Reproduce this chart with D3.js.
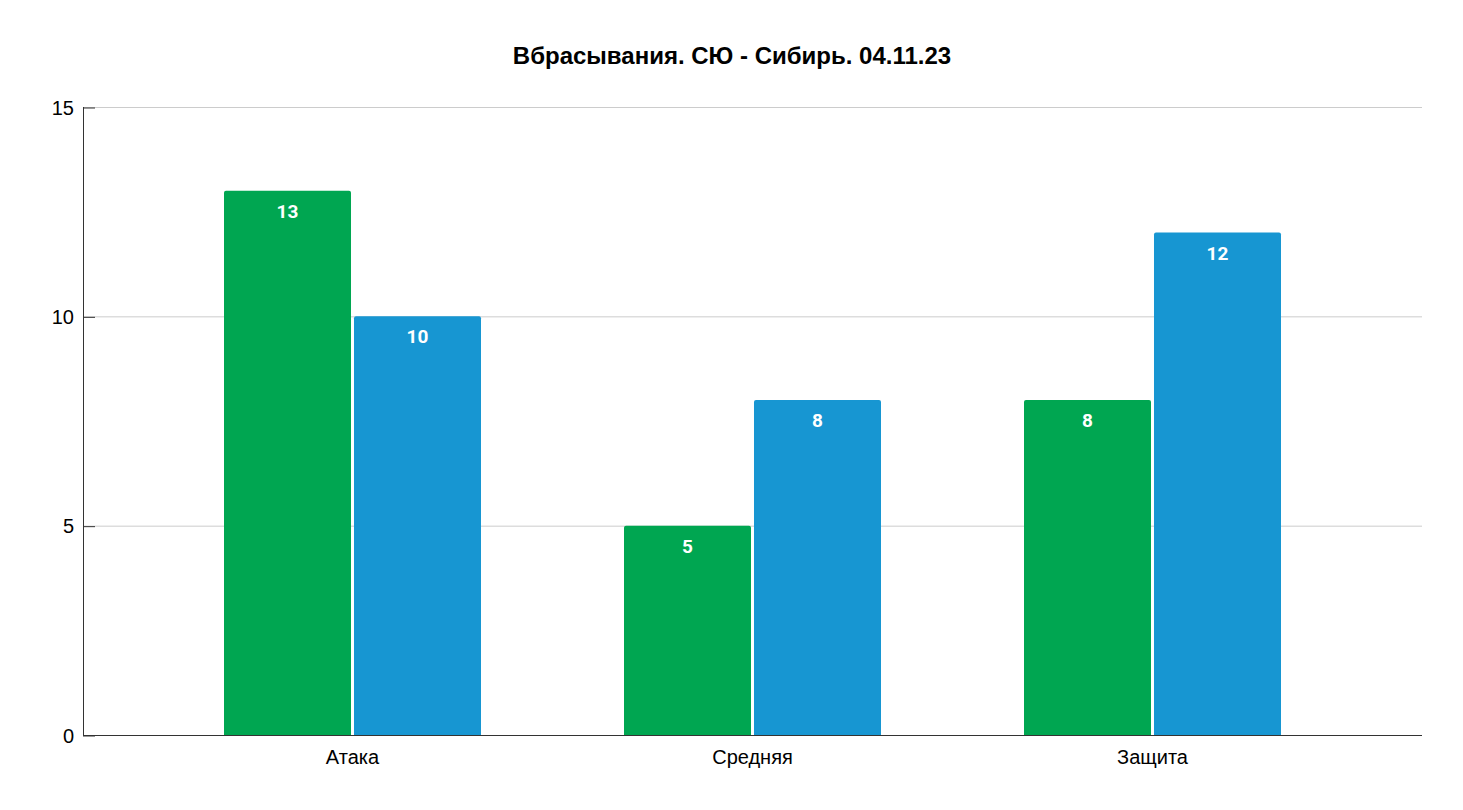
<!DOCTYPE html>
<html><head><meta charset="utf-8">
<script src="https://cdn.jsdelivr.net/npm/d3@7"></script>
<style>body{margin:0;background:#fff;}svg{display:block;}</style>
</head><body>
<svg id="c" width="1463" height="810"></svg>
<script>
const categories = ["Атака", "Средняя", "Защита"];
const seriesNames = ["СЮ", "Сибирь"];
const seriesA = [13, 5, 8];
const seriesB = [10, 8, 12];
const yTicks = [0, 5, 10, 15];
const title = "Вбрасывания. СЮ - Сибирь. 04.11.23";
const colors = ["#00a651", "#1796d2"];

const svg = d3.select("#c");
const pLeft = 83, pRight = 1422, pTop = 107, pBottom = 735;

const x = d3.scaleBand().domain(categories).range([pLeft, pRight]).paddingInner(0.3575).paddingOuter(0.3525);
const xs = d3.scaleBand().domain(seriesNames).range([0, x.bandwidth()]).paddingInner(0.023);
const y = d3.scaleLinear().domain([0, 15]).range([pBottom, pTop]);

svg.append("text").attr("x", 732).attr("y", 64).attr("text-anchor", "middle")
  .attr("font-family", "Liberation Sans, Arial, sans-serif").attr("font-weight", "bold")
  .attr("font-size", 24).text(title);

// gridlines
svg.append("g").selectAll("line").data(yTicks.filter(d => d > 0)).join("line")
  .attr("x1", pLeft).attr("x2", pRight).attr("y1", d => y(d) + 0.5).attr("y2", d => y(d) + 0.5)
  .attr("stroke", "#cccccc").attr("stroke-width", 1);

const data = categories.map((c, i) => ({c, vals: [seriesA[i], seriesB[i]]}));
const g = svg.append("g").selectAll("g").data(data).join("g")
  .attr("transform", d => `translate(${x(d.c)},0)`);
const bars = g.selectAll("g").data(d => d.vals.map((v, j) => ({v, s: seriesNames[j], j}))).join("g");
bars.append("path").attr("fill", d => colors[d.j]).attr("d", d => {
  const x0 = xs(d.s), w = xs.bandwidth(), y0 = y(d.v), r = 2;
  return `M${x0},${pBottom}V${y0 + r}Q${x0},${y0} ${x0 + r},${y0}H${x0 + w - r}Q${x0 + w},${y0} ${x0 + w},${y0 + r}V${pBottom}Z`;
});
bars.append("text").attr("x", d => xs(d.s) + xs.bandwidth() / 2).attr("y", d => y(d.v) + 27)
  .attr("text-anchor", "middle").attr("fill", "#fff").attr("font-weight", "bold")
  .attr("font-family", "Roboto, sans-serif").attr("font-size", 19).text(d => d.v);

// y axis
const ya = svg.append("g").attr("transform", `translate(${pLeft},0)`)
  .call(d3.axisLeft(y).tickValues(yTicks).tickSize(-12).tickPadding(9));
ya.select(".domain").remove();
ya.selectAll(".tick line").attr("stroke", "#333").attr("transform", "translate(0,0.5)");
ya.selectAll(".tick text").attr("font-family", "Liberation Sans, Arial, sans-serif").attr("font-size", 20).attr("fill", "#000").attr("dy", "0.35em");
svg.append("line").attr("x1", pLeft + 0.5).attr("x2", pLeft + 0.5).attr("y1", pTop).attr("y2", pBottom + 1).attr("stroke", "#333");

// x axis
const xa = svg.append("g").attr("transform", `translate(0,${pBottom})`)
  .call(d3.axisBottom(x).tickSize(0).tickPadding(15));
xa.select(".domain").attr("stroke", "#333").attr("d", `M${pLeft},0.5H${pRight}`);
xa.selectAll(".tick text").attr("font-family", "Liberation Sans, Arial, sans-serif").attr("font-size", 20).attr("fill", "#000").attr("dy", "0.71em");
</script>
</body></html>
